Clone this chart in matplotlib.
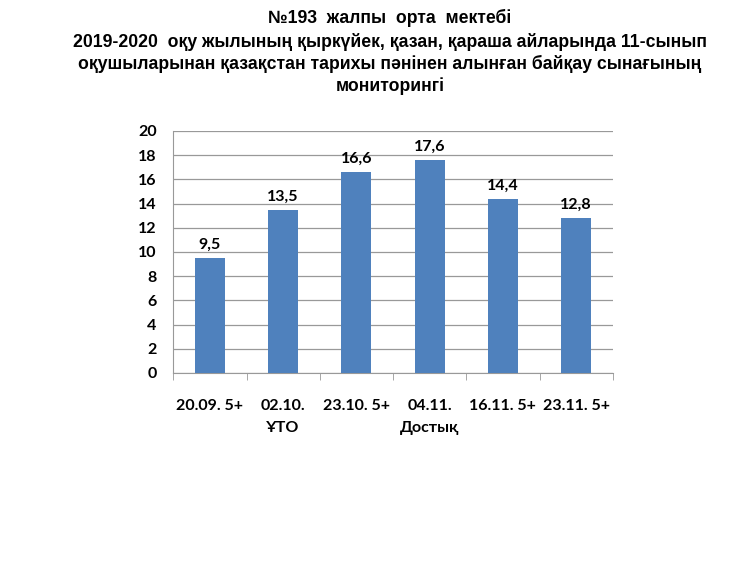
import matplotlib
matplotlib.use('Agg')
import matplotlib.pyplot as plt
import numpy as np

# data
categories = ['20.09. 5+', '02.10.\nҰТО', '23.10. 5+', '04.11.\nДостық', '16.11. 5+', '23.11. 5+']
values = [9.5, 13.5, 16.6, 17.6, 14.4, 12.8]
value_labels = ['9,5', '13,5', '16,6', '17,6', '14,4', '12,8']
title_lines = [
    '№193  жалпы  орта  мектебі',
    '2019-2020  оқу жылының қыркүйек, қазан, қараша айларында 11-сынып',
    'оқушыларынан қазақстан тарихы пәнінен алынған байқау сынағының',
    'мониторингі',
]

fig = plt.figure(figsize=(7.5, 5.63), dpi=100)
fig.set_facecolor('white')
ax = fig.add_axes([0.231, 0.3375, 0.586, 0.43])

x = np.arange(len(categories))
ax.bar(x, values, width=0.41, color='#4F81BD', zorder=3)
for xi, v, lab in zip(x, values, value_labels):
    ax.text(xi, v + 0.5, lab, ha='center', va='bottom', fontsize=11.5,
            fontweight='bold', family='Lato', color='black')

ax.set_xlim(-0.5, len(categories) - 0.5)
ax.set_ylim(0, 20)
ax.set_yticks(np.arange(0, 21, 2))
ax.grid(axis='y', color='#999999', linewidth=0.9, zorder=0)
ax.set_xticks(x)
ax.set_xticklabels(categories, fontsize=11.5, fontweight='bold', family='Lato',
                   linespacing=1.65)
ax.set_xticks(np.arange(-0.5, len(categories), 1), minor=True)
ax.tick_params(axis='x', which='major', length=0, pad=19)
ax.tick_params(axis='x', which='minor', length=5, color='#999999')
ax.tick_params(axis='y', length=0, pad=12)
for lab in ax.get_yticklabels():
    lab.set_fontsize(11.5)
    lab.set_fontweight('bold')
    lab.set_family('Lato')

for s in ['top', 'right']:
    ax.spines[s].set_visible(False)
ax.spines['left'].set_color('#999999')
ax.spines['bottom'].set_color('#999999')

ys = [0.968, 0.925, 0.886, 0.847]
for t, yy in zip(title_lines, ys):
    fig.text(0.52, yy, t, ha='center', va='center', fontsize=12.7,
             fontweight='bold', family='Liberation Sans')

plt.savefig('out.png', dpi=100)
